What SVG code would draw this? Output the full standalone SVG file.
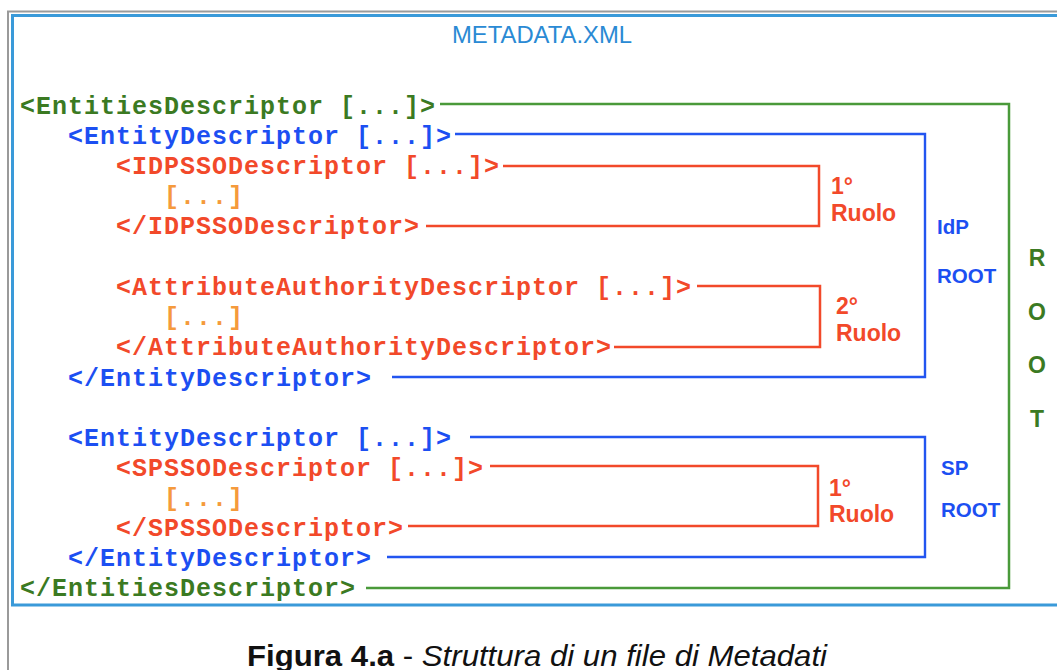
<svg xmlns="http://www.w3.org/2000/svg" width="1057" height="670" viewBox="0 0 1057 670">
<style>
.code{font-family:"Liberation Mono","Courier New",monospace;font-weight:bold;font-size:25px;letter-spacing:1px}
.g{fill:#3b7a22}.b{fill:#1c4ff2}.r{fill:#f2492a}.o{fill:#f59a3c}
.lab{font-family:"Liberation Sans",Arial,sans-serif;font-weight:bold}
.lg{fill:none;stroke:#4a9a3a;stroke-width:2.5}
.lb{fill:none;stroke:#2255f0;stroke-width:2.4}
.lr{fill:none;stroke:#f2492a;stroke-width:2.5}
</style>
<rect width="1057" height="670" fill="#fff"/>
<g id="frame">
<path d="M8,670 V11.5 H1057" fill="none" stroke="#9a9a9a" stroke-width="2"/>
<path d="M1060,15.5 H12.5 V605 H1060" fill="none" stroke="#3a9ad9" stroke-width="3"/>
</g>
<text id="title" x="542" y="43" text-anchor="middle" font-family="'Liberation Sans',Arial,sans-serif" font-size="23" fill="#2a8ad4" textLength="180" lengthAdjust="spacingAndGlyphs">METADATA.XML</text>
<g id="connectors">
<path class="lg" d="M440,104 H1009 V588 H366"/>
<path class="lb" d="M455,134 H925 V377 H392"/>
<path class="lr" d="M503,166 H819 V226 H426"/>
<path class="lr" d="M697,286 H820 V347 H614"/>
<path class="lb" d="M470,437 H925 V557 H387"/>
<path class="lr" d="M490,466 H818 V526 H408"/>
</g>
<g id="entities">
<text class="code g" x="20" y="114">&lt;EntitiesDescriptor [...]&gt;</text>
<text class="code g" x="20" y="596">&lt;/EntitiesDescriptor&gt;</text>
</g>
<g id="entity-idp">
<text class="code b" x="68" y="144">&lt;EntityDescriptor [...]&gt;</text>
<text class="code b" x="68" y="386">&lt;/EntityDescriptor&gt;</text>
</g>
<g id="idpsso">
<text class="code r" x="116" y="174">&lt;IDPSSODescriptor [...]&gt;</text>
<text class="code o" x="164" y="204">[...]</text>
<text class="code r" x="116" y="234">&lt;/IDPSSODescriptor&gt;</text>
</g>
<g id="aad">
<text class="code r" x="116" y="295">&lt;AttributeAuthorityDescriptor [...]&gt;</text>
<text class="code o" x="164" y="325">[...]</text>
<text class="code r" x="116" y="355">&lt;/AttributeAuthorityDescriptor&gt;</text>
</g>
<g id="entity-sp">
<text class="code b" x="68" y="446">&lt;EntityDescriptor [...]&gt;</text>
<text class="code b" x="68" y="566">&lt;/EntityDescriptor&gt;</text>
</g>
<g id="spsso">
<text class="code r" x="116" y="476">&lt;SPSSODescriptor [...]&gt;</text>
<text class="code o" x="164" y="506">[...]</text>
<text class="code r" x="116" y="536">&lt;/SPSSODescriptor&gt;</text>
</g>
<g id="labels" class="lab">
<g font-size="23" fill="#f2492a">
<text x="831" y="194">1°</text>
<text x="831" y="221">Ruolo</text>
<text x="836" y="314">2°</text>
<text x="836" y="341">Ruolo</text>
<text x="829" y="496">1°</text>
<text x="829" y="522">Ruolo</text>
</g>
<g font-size="20.5" fill="#1c4ff2">
<text x="937" y="234">IdP</text>
<text x="937" y="283">ROOT</text>
<text x="941" y="475">SP</text>
<text x="941" y="517">ROOT</text>
</g>
<g font-size="23" fill="#3b7a22" text-anchor="middle">
<text x="1037" y="266">R</text>
<text x="1037" y="320">O</text>
<text x="1037" y="373">O</text>
<text x="1037" y="427">T</text>
</g>
</g>
<text id="caption" x="537" y="666" text-anchor="middle" font-family="'Liberation Sans',Arial,sans-serif" font-size="29" fill="#111" textLength="580" lengthAdjust="spacingAndGlyphs"><tspan font-weight="bold">Figura 4.a</tspan> - <tspan font-style="italic">Struttura di un file di Metadati</tspan></text>
</svg>
